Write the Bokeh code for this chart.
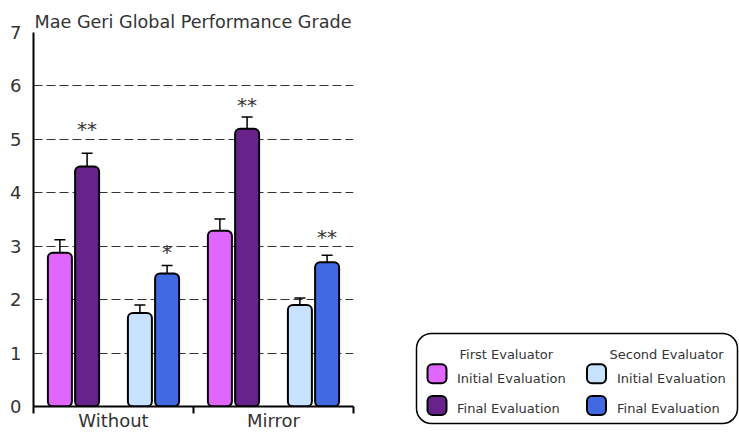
from bokeh.plotting import figure
from bokeh.models import Range1d, FixedTicker, Whisker, TeeHead, ColumnDataSource
from bokeh.layouts import row, column
from bokeh.embed import file_html
from bokeh.resources import INLINE
from bokeh.core.properties import value

# ---- data ----
conditions = ["Without", "Mirror"]
e1_initial = [2.88, 3.29]
e1_initial_err = [0.24, 0.22]
e1_final = [4.49, 5.20]
e1_final_err = [0.25, 0.22]
e2_initial = [1.75, 1.90]
e2_initial_err = [0.15, 0.13]
e2_final = [2.49, 2.70]
e2_final_err = [0.15, 0.13]
e1_final_sig = ["**", "**"]
e1_final_sig_y = [5.22, 5.66]
e2_final_sig = ["*", "**"]
e2_final_sig_y = [2.91, 3.19]
y_ticks = [0, 1, 2, 3, 4, 5, 6, 7]
legend_headers = ["First Evaluator", "Second Evaluator"]
legend_labels = ["Initial Evaluation", "Final Evaluation"]

FONT = "DejaVu Sans"
TXT = "#333333"
colors = ["#E066FF", "#68228B", "#C6E2FF", "#4169E1"]
offsets = [-0.335, -0.165, 0.165, 0.335]
series = [(e1_initial, e1_initial_err), (e1_final, e1_final_err),
          (e2_initial, e2_initial_err), (e2_final, e2_final_err)]

PW = 358
p = figure(width=PW, height=433, x_range=Range1d(0, 2), y_range=Range1d(0, 7),
           toolbar_location=None, output_backend="svg",
           min_border_left=33, min_border_right=PW - 353, min_border_top=32, min_border_bottom=27)
p.outline_line_color = None
p.title.text = "Mae Geri Global Performance Grade"
p.title.text_font = FONT
p.title.text_font_size = "17.6px"
p.title.text_font_style = "normal"
p.title.text_color = TXT
p.title.align = "left"
p.title.offset = 1
p.title.standoff = 1

p.xgrid.visible = False
p.ygrid.ticker = FixedTicker(ticks=y_ticks)
p.ygrid.grid_line_color = "#333333"
p.ygrid.grid_line_dash = "9 4"
p.ygrid.grid_line_width = 1.2

ya = p.yaxis[0]
ya.ticker = FixedTicker(ticks=y_ticks)
ya.axis_line_width = 2
ya.axis_line_color = "black"
ya.major_tick_out = 0
ya.major_tick_in = 0
ya.minor_tick_line_color = None
ya.major_label_text_font = FONT
ya.major_label_text_font_size = "18px"
ya.major_label_text_color = TXT
ya.major_label_standoff = 12

xa = p.xaxis[0]
xa.ticker = FixedTicker(ticks=[0.5, 1.5], minor_ticks=[0, 1, 2])
xa.major_label_overrides = {0.5: conditions[0], 1.5: conditions[1]}
xa.axis_line_width = 2
xa.axis_line_color = "black"
xa.major_tick_out = 0
xa.major_tick_in = 0
xa.minor_tick_out = 7
xa.minor_tick_in = 0
xa.minor_tick_line_width = 2
xa.minor_tick_line_color = "black"
xa.major_label_text_font = FONT
xa.major_label_text_font_size = "18px"
xa.major_label_text_color = TXT
xa.major_label_standoff = -4

for (vals, errs), off, col in zip(series, offsets, colors):
    xs = [i + 0.5 + off for i in range(len(conditions))]
    src = ColumnDataSource(dict(x=xs, top=vals,
                                upper=[v + e for v, e in zip(vals, errs)],
                                lower=[v - e for v, e in zip(vals, errs)]))
    p.vbar(x="x", top="top", bottom=0, width=0.15, source=src, fill_color=col,
           line_color="black", line_width=2, border_radius=5)
    w = Whisker(base="x", upper="upper", lower="lower", source=src,
                line_color="black", line_width=1.5,
                upper_head=TeeHead(size=11, line_width=1.5, line_color="black"),
                lower_head=TeeHead(size=11, line_width=1.5, line_color="black"))
    p.add_layout(w)

for sig, sy, off in [(e1_final_sig, e1_final_sig_y, offsets[1]), (e2_final_sig, e2_final_sig_y, offsets[3])]:
    xs = [i + 0.5 + off for i in range(len(conditions))]
    p.text(x=xs, y=sy, text=sig, text_align="center", text_baseline="middle",
           text_font=value(FONT), text_font_size="20px", text_color=TXT, y_offset=1)

# ---- legend panel (page-pixel coordinates) ----
leg = figure(width=739 - PW, height=433, x_range=Range1d(PW, 739), y_range=Range1d(433, 0),
             toolbar_location=None, output_backend="svg", min_border=0)
leg.outline_line_color = None
leg.axis.visible = False
leg.grid.visible = False
leg.quad(left=416, right=737, top=333, bottom=423, fill_color="white", line_color="black",
         line_width=1.5, border_radius=15)
col_x = [436.5, 596]
row_y = [373.3, 405]
head_x = [459, 609]
lab_x = [456.5, 616.5]
lab_y = [378, 408]
for c in range(2):
    leg.text(x=[head_x[c]], y=[354], text=[legend_headers[c]], text_align="left",
             text_baseline="middle", text_font=value(FONT), text_font_size="13px", text_color=TXT)
    for r in range(2):
        cidx = c * 2 + r
        leg.quad(left=col_x[c] - 9.5, right=col_x[c] + 9.5, top=row_y[r] - 9.5, bottom=row_y[r] + 9.5,
                 fill_color=colors[cidx], line_color="black", line_width=2, border_radius=5)
        leg.text(x=[lab_x[c]], y=[lab_y[r]], text=[legend_labels[r]], text_align="left",
                 text_baseline="middle", text_font=value(FONT), text_font_size="13px", text_color=TXT)

layout = row(p, column(leg))
open("out.html", "w").write(file_html(layout, INLINE))
